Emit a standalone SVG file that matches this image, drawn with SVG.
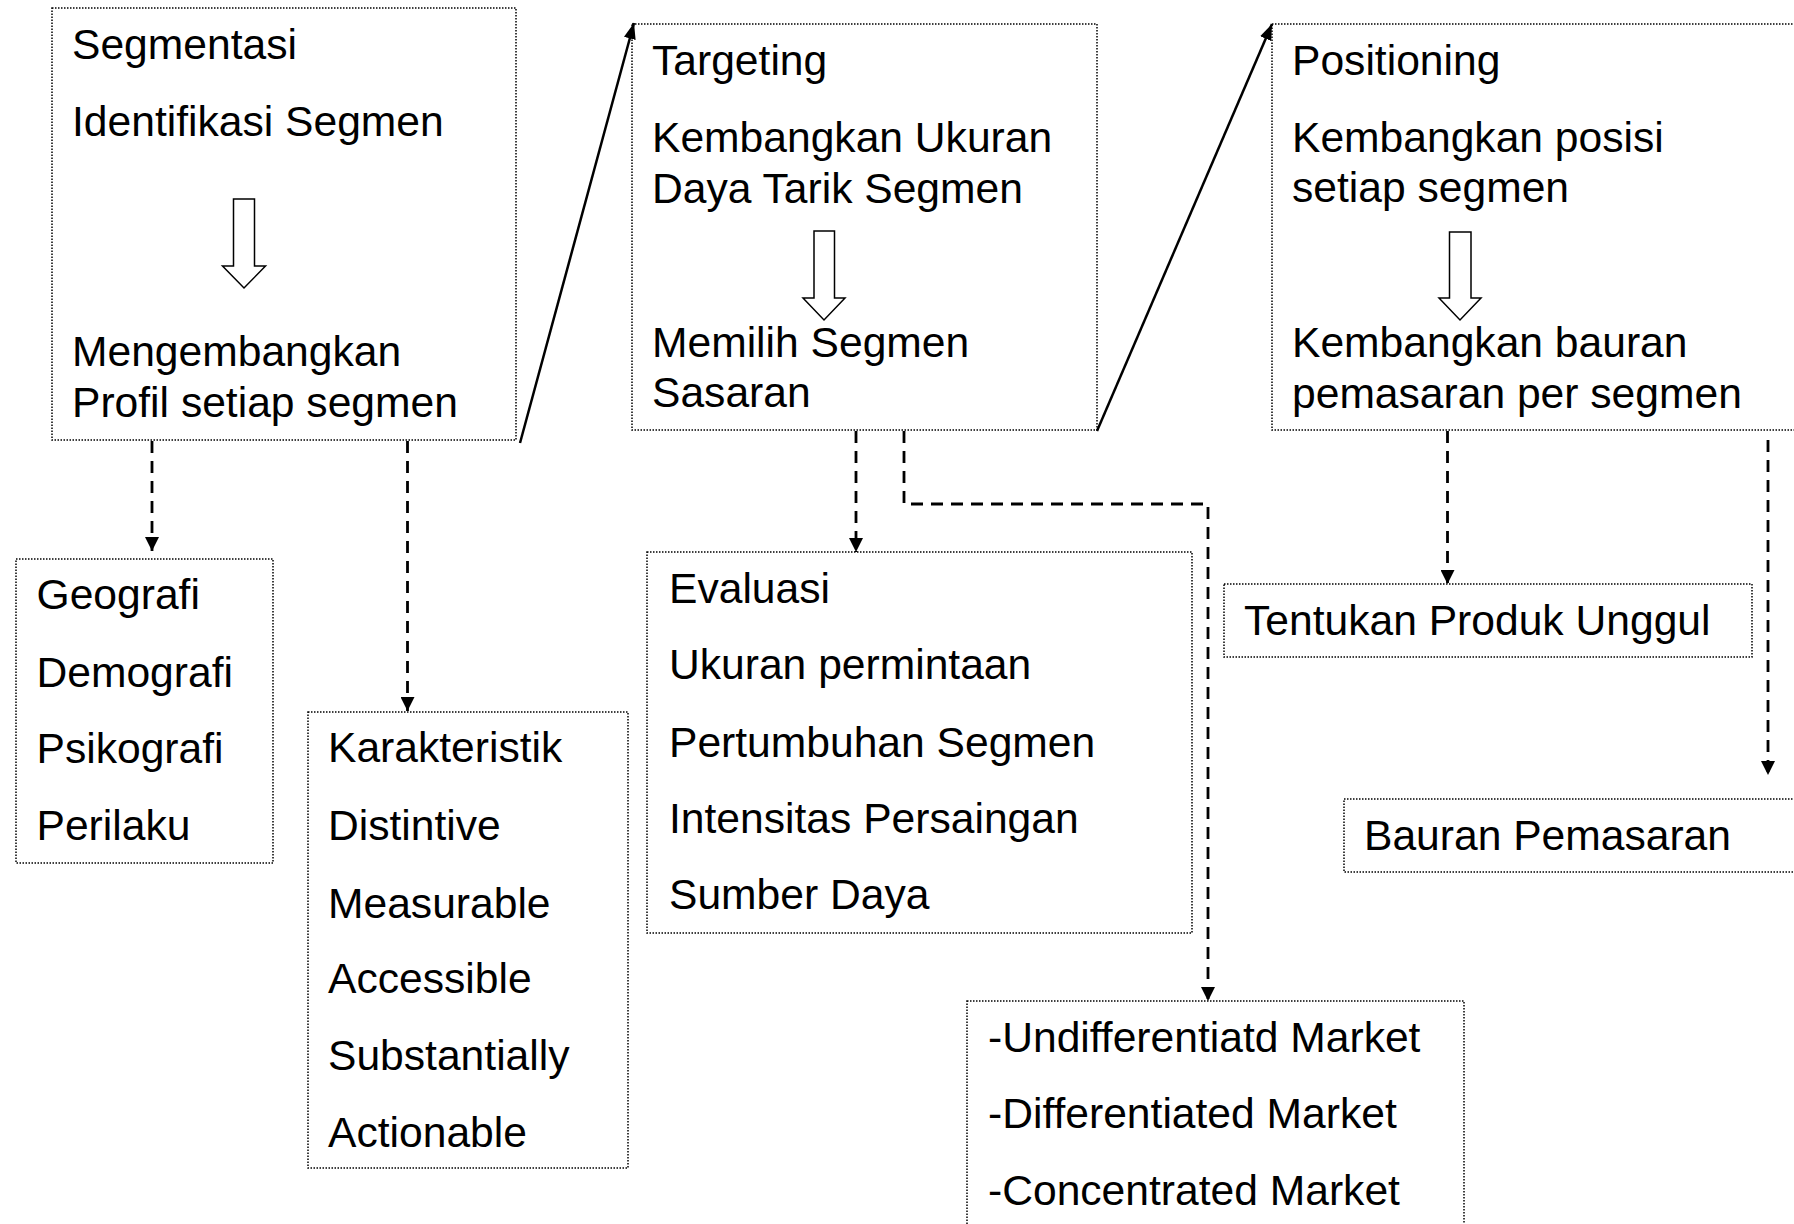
<svg xmlns="http://www.w3.org/2000/svg" width="1794" height="1224" viewBox="0 0 1794 1224">
<defs>
<style>
.box{fill:#fff;stroke:#000;stroke-width:1.5;stroke-dasharray:1.5 1.5}
.t{font-family:"Liberation Sans",Arial,sans-serif;font-size:42.6px;fill:#000}
.hollow{fill:#fff;stroke:#000;stroke-width:1.5;stroke-linejoin:miter}
.dash{fill:none;stroke:#000;stroke-width:2.8;stroke-dasharray:12 8;marker-end:url(#dh)}
.solid{fill:none;stroke:#000;stroke-width:2.5;marker-end:url(#sh)}
</style>
<marker id="dh" viewBox="0 0 14 14" refX="14" refY="7" markerWidth="14" markerHeight="14" markerUnits="userSpaceOnUse" orient="auto"><path d="M0,0 L14,7 L0,14 Z" fill="#000"/></marker>
<marker id="sh" viewBox="0 0 16 12" refX="16" refY="6" markerWidth="16" markerHeight="12" markerUnits="userSpaceOnUse" orient="auto"><path d="M0,0 L16,6 L0,12 Z" fill="#000"/></marker>
</defs>
<rect width="1794" height="1224" fill="#fff"/>

<g id="segmentasi">
<rect class="box" x="52" y="8" width="464" height="432"/>
<text class="t" x="72" y="59">Segmentasi</text>
<text class="t" x="72" y="136">Identifikasi Segmen</text>
<polygon class="hollow" points="233.5,199 254.5,199 254.5,266 265.5,266 244,288 222.5,266 233.5,266"/>
<text class="t" x="72" y="366">Mengembangkan</text>
<text class="t" x="72" y="417">Profil setiap segmen</text>
</g>

<g id="targeting">
<rect class="box" x="632" y="24" width="465" height="406"/>
<text class="t" x="652" y="75">Targeting</text>
<text class="t" x="652" y="152">Kembangkan Ukuran</text>
<text class="t" x="652" y="203">Daya Tarik Segmen</text>
<polygon class="hollow" points="814,231 834.5,231 834.5,298 845,298 824,320 803,298 814,298"/>
<text class="t" x="652" y="357">Memilih Segmen</text>
<text class="t" x="652" y="407">Sasaran</text>
</g>

<g id="positioning">
<rect class="box" x="1272" y="24" width="600" height="406"/>
<text class="t" x="1292" y="75">Positioning</text>
<text class="t" x="1292" y="152">Kembangkan posisi</text>
<text class="t" x="1292" y="202">setiap segmen</text>
<polygon class="hollow" points="1449.5,232 1471,232 1471,298 1481,298 1460,320 1439,298 1449.5,298"/>
<text class="t" x="1292" y="357">Kembangkan bauran</text>
<text class="t" x="1292" y="408">pemasaran per segmen</text>
</g>

<g id="geografi">
<rect class="box" x="16" y="559" width="257" height="304"/>
<text class="t" x="36.5" y="609">Geografi</text>
<text class="t" x="36.5" y="687">Demografi</text>
<text class="t" x="36.5" y="763">Psikografi</text>
<text class="t" x="36.5" y="840">Perilaku</text>
</g>

<g id="karakteristik">
<rect class="box" x="308" y="712" width="320" height="456"/>
<text class="t" x="328" y="762">Karakteristik</text>
<text class="t" x="328" y="840">Distintive</text>
<text class="t" x="328" y="918">Measurable</text>
<text class="t" x="328" y="993">Accessible</text>
<text class="t" x="328" y="1070">Substantially</text>
<text class="t" x="328" y="1147">Actionable</text>
</g>

<g id="evaluasi">
<rect class="box" x="647" y="552" width="545" height="381"/>
<text class="t" x="669" y="603">Evaluasi</text>
<text class="t" x="669" y="679">Ukuran permintaan</text>
<text class="t" x="669" y="757">Pertumbuhan Segmen</text>
<text class="t" x="669" y="833">Intensitas Persaingan</text>
<text class="t" x="669" y="909">Sumber Daya</text>
</g>

<g id="market">
<rect class="box" x="967" y="1001" width="497" height="300"/>
<text class="t" x="988" y="1052">-Undifferentiatd Market</text>
<text class="t" x="988" y="1128">-Differentiated Market</text>
<text class="t" x="988" y="1205">-Concentrated Market</text>
</g>

<g id="tentukan">
<rect class="box" x="1224" y="584" width="528" height="73"/>
<text class="t" x="1244" y="635">Tentukan Produk Unggul</text>
</g>

<g id="bauran">
<rect class="box" x="1344" y="799" width="500" height="73"/>
<text class="t" x="1364" y="850">Bauran Pemasaran</text>
</g>

<g id="connectors">
<line class="solid" x1="520" y1="443" x2="634" y2="23"/>
<line class="solid" x1="1097" y1="431" x2="1272" y2="24"/>
<path class="dash" d="M152,441 V551"/>
<path class="dash" d="M407.5,441 V711"/>
<path class="dash" d="M856,431 V552"/>
<path class="dash" d="M904,431 V504 H1208 V1001"/>
<path class="dash" d="M1447.5,431 V584"/>
<path class="dash" d="M1768,440 V775"/>
</g>
</svg>
